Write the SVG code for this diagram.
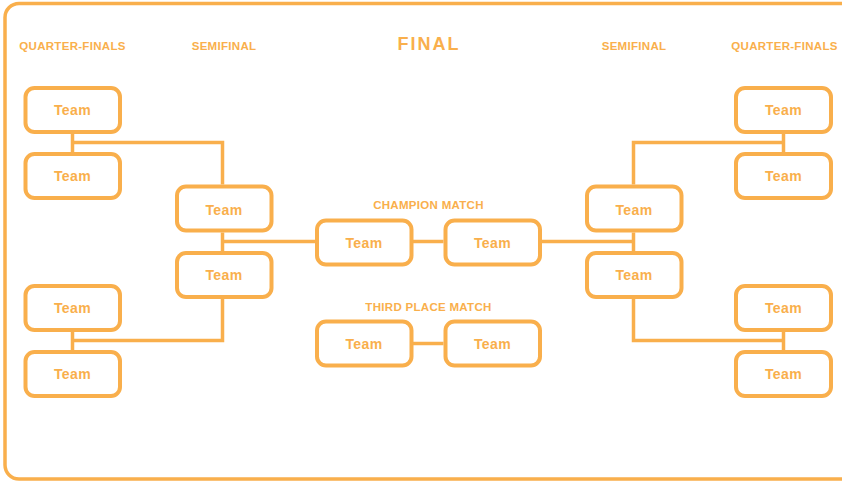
<svg xmlns="http://www.w3.org/2000/svg" width="842" height="481" viewBox="0 0 842 481">
<style>
.frame{fill:none;stroke:#F9AF4C;stroke-width:3.5}
.box{fill:#fff;stroke:#F9AF4C;stroke-width:4}
.conn{fill:none;stroke:#F9AF4C;stroke-width:3.5}
.team{font-family:"Liberation Sans",Arial,sans-serif;font-weight:bold;font-size:14px;fill:#F9AF4C;text-anchor:middle;letter-spacing:0.4px}
.hdr{font-family:"Liberation Sans",Arial,sans-serif;font-weight:bold;font-size:11.5px;fill:#F9AF4C;text-anchor:middle;letter-spacing:0.3px}
.title{font-family:"Liberation Sans",Arial,sans-serif;font-weight:bold;font-size:18px;fill:#F9AF4C;text-anchor:middle;letter-spacing:2px}
</style>
<rect width="842" height="481" fill="#fff"/>
<rect class="frame" x="5" y="3.5" width="870" height="475.5" rx="14"/>
<g id="headers">
<text class="hdr" x="72.5" y="50">QUARTER-FINALS</text>
<text class="hdr" x="224" y="50">SEMIFINAL</text>
<text class="title" x="429" y="50">FINAL</text>
<text class="hdr" x="634" y="50">SEMIFINAL</text>
<text class="hdr" x="784.5" y="50">QUARTER-FINALS</text>
<text class="hdr" x="428.5" y="209">CHAMPION MATCH</text>
<text class="hdr" x="428.5" y="311">THIRD PLACE MATCH</text>
</g>
<g id="connectors">
<path class="conn" d="M72.5 134V152M72.5 142.5H222.5V184.5"/>
<path class="conn" d="M72.5 332V350M72.5 340.5H222.5V299"/>
<path class="conn" d="M222.5 232.5V251M222.5 241.5H315"/>
<path class="conn" d="M413 241.5H443.5"/>
<path class="conn" d="M541.5 241.5H633.5M633.5 232.5V251"/>
<path class="conn" d="M413 343.5H443.5"/>
<path class="conn" d="M783.5 134V152M783.5 142.5H633.5V184.5"/>
<path class="conn" d="M783.5 332V350M783.5 340.5H633.5V299"/>
</g>
<g id="lqf1"><rect class="box" x="25.5" y="88" width="94.5" height="44" rx="9"/><text class="team" x="72.5" y="115">Team</text></g>
<g id="lqf2"><rect class="box" x="25.5" y="154" width="94.5" height="44" rx="9"/><text class="team" x="72.5" y="181">Team</text></g>
<g id="lqf3"><rect class="box" x="25.5" y="286" width="94.5" height="44" rx="9"/><text class="team" x="72.5" y="313">Team</text></g>
<g id="lqf4"><rect class="box" x="25.5" y="352" width="94.5" height="44" rx="9"/><text class="team" x="72.5" y="379">Team</text></g>
<g id="lsf1"><rect class="box" x="177" y="186.5" width="94.5" height="44" rx="9"/><text class="team" x="224" y="214.5">Team</text></g>
<g id="lsf2"><rect class="box" x="177" y="253" width="94.5" height="44" rx="9"/><text class="team" x="224" y="280">Team</text></g>
<g id="cm1"><rect class="box" x="317" y="220.5" width="94.5" height="44" rx="9"/><text class="team" x="364" y="247.5">Team</text></g>
<g id="cm2"><rect class="box" x="445.5" y="220.5" width="94.5" height="44" rx="9"/><text class="team" x="492.5" y="247.5">Team</text></g>
<g id="tp1"><rect class="box" x="317" y="321.5" width="94.5" height="44" rx="9"/><text class="team" x="364" y="348.5">Team</text></g>
<g id="tp2"><rect class="box" x="445.5" y="321.5" width="94.5" height="44" rx="9"/><text class="team" x="492.5" y="348.5">Team</text></g>
<g id="rsf1"><rect class="box" x="587" y="186.5" width="94.5" height="44" rx="9"/><text class="team" x="634" y="214.5">Team</text></g>
<g id="rsf2"><rect class="box" x="587" y="253" width="94.5" height="44" rx="9"/><text class="team" x="634" y="280">Team</text></g>
<g id="rqf1"><rect class="box" x="736" y="88" width="95" height="44" rx="9"/><text class="team" x="783.5" y="115">Team</text></g>
<g id="rqf2"><rect class="box" x="736" y="154" width="95" height="44" rx="9"/><text class="team" x="783.5" y="181">Team</text></g>
<g id="rqf3"><rect class="box" x="736" y="286" width="95" height="44" rx="9"/><text class="team" x="783.5" y="313">Team</text></g>
<g id="rqf4"><rect class="box" x="736" y="352" width="95" height="44" rx="9"/><text class="team" x="783.5" y="379">Team</text></g>
</svg>
